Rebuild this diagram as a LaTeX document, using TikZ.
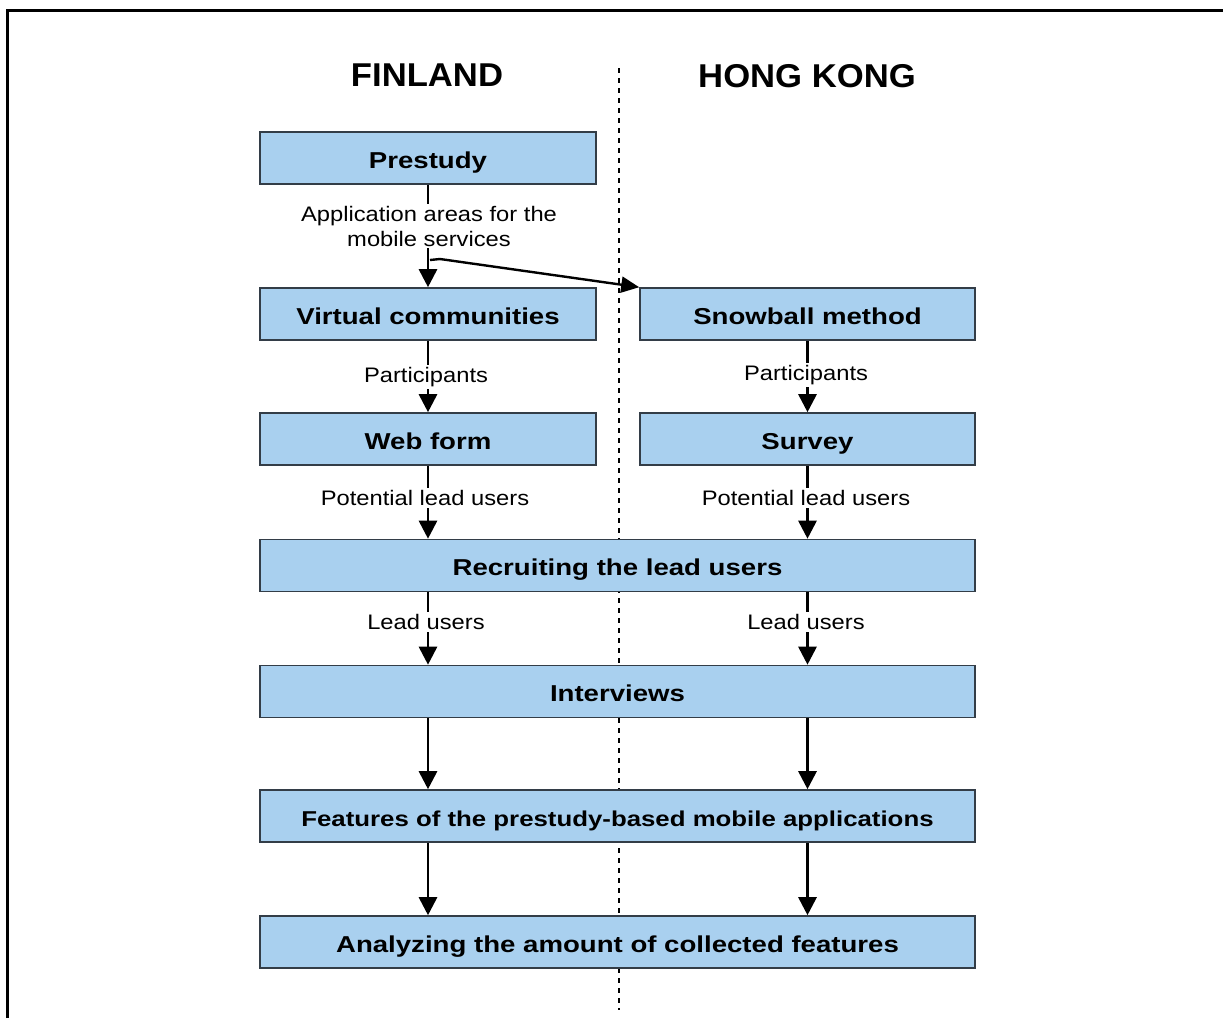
\documentclass[tikz,border=0pt]{standalone}
\usepackage{fontspec}
\usetikzlibrary{arrows.meta}
\newfontfamily\boxfont[FakeStretch=1.2]{Liberation Sans}
\newfontfamily\lblfont[FakeStretch=1.13]{Liberation Sans}
\newfontfamily\hdrfont[FakeStretch=1.05]{Liberation Sans}
\definecolor{boxfill}{HTML}{A9D0EF}
\definecolor{boxline}{HTML}{333D47}
\begin{document}
\begin{tikzpicture}[x=1pt,y=-1pt,
  box/.style={draw=boxline, line width=1.6pt, fill=boxfill, minimum height=52pt,
    inner sep=0pt, text height=20pt, text depth=0pt,
    font=\boxfont\bfseries\fontsize{23}{27}\selectfont},
  narrow/.style={box, minimum width=336pt},
  wide/.style={box, minimum width=715pt},
  lbl/.style={fill=white, inner sep=2pt, align=center,
    font=\lblfont\fontsize{21}{25}\selectfont},
  hdr/.style={font=\hdrfont\bfseries\fontsize{33}{38}\selectfont},
  arr/.style={line width=2.8pt, -{Triangle[width=18pt,length=18pt]}},
  sep/.style={line width=2pt, dash pattern=on 5pt off 5pt}]
\useasboundingbox (0,0) rectangle (1223,1018);
\draw[line width=3pt] (7,1018) -- (7,10.5) -- (1223,10.5);
\node[hdr] (fin) at (427,75) {FINLAND};
\node[hdr] (hk) at (807,76) {HONG KONG};
\coordinate (septop) at (619,68);
\coordinate (sepbot) at (619,1010);
\draw[sep] (septop) -- (sepbot);
\node[narrow] (pre) at (428,158) {Prestudy};
\node[narrow] (vc) at (428,314) {Virtual communities};
\node[narrow, minimum width=335pt] (snow) at (807.5,314) {Snowball method};
\node[narrow] (web) at (428,439) {Web form};
\node[narrow, minimum width=335pt] (survey) at (807.5,439) {Survey};
\node[wide] (rec) at (617.5,565.5) {Recruiting the lead users};
\node[wide] (int) at (617.5,691.5) {Interviews};
\node[wide, font=\boxfont\bfseries\fontsize{21.5}{26}\selectfont] (feat) at (617.5,816) {Features of the prestudy-based mobile applications};
\node[wide] (ana) at (617.5,942) {Analyzing the amount of collected features};
% left column
\draw[arr] (pre.south) -- (vc.north);
\node[lbl] (l1) at (429,226) {Application areas for the\\mobile services};
\coordinate (split) at (430,260);
\draw[line width=2.4pt, -{Triangle[width=16pt,length=18pt]}] (split) -- (440,259) -- (snow.north west);
\draw[arr] (vc.south) -- (web.north);
\node[lbl] (l2) at (426,377) {Participants};
\draw[arr] (web.south) -- (web.south |- rec.north);
\node[lbl] (l3) at (425,498) {Potential lead users};
\draw[arr] (rec.south -| web.south) -- (int.north -| web.south);
\node[lbl] (l4) at (426,622) {Lead users};
\draw[arr] (int.south -| web.south) -- (feat.north -| web.south);
\draw[arr] (feat.south -| web.south) -- (ana.north -| web.south);
% right column
\draw[arr] (snow.south) -- (survey.north);
\node[lbl] (r2) at (806,375) {Participants};
\draw[arr] (survey.south) -- (survey.south |- rec.north);
\node[lbl] (r3) at (806,498) {Potential lead users};
\draw[arr] (rec.south -| survey.south) -- (int.north -| survey.south);
\node[lbl] (r4) at (806,622) {Lead users};
\draw[arr] (int.south -| survey.south) -- (feat.north -| survey.south);
\draw[arr] (feat.south -| survey.south) -- (ana.north -| survey.south);
\end{tikzpicture}
\end{document}
